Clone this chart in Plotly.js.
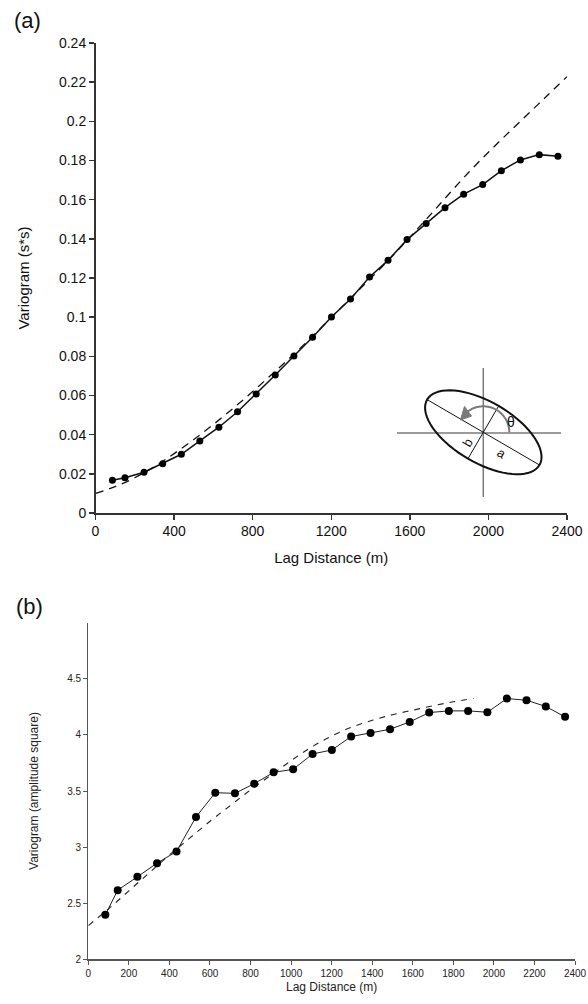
<!DOCTYPE html>
<html>
<head>
<meta charset="utf-8">
<script src="https://cdn.plot.ly/plotly-3.0.1.min.js"></script>
<style>html,body{margin:0;padding:0;background:#fff;}#chart{width:588px;height:1004px;}</style>
</head>
<body>
<div id="chart"></div>
<script>
// ---- Panel (a) data ----
const lagA = [86,150,247,342,437,531,628,723,818,915,1010,1105,1201,1298,1395,1489,1586,1683,1779,1874,1971,2066,2163,2259,2354];
const gamA = [0.0167,0.0180,0.0208,0.0252,0.0300,0.0368,0.0438,0.0517,0.0608,0.0705,0.0802,0.0897,0.1001,0.1093,0.1205,0.1290,0.1396,0.1478,0.1559,0.1628,0.1677,0.1748,0.1803,0.1830,0.1822];
const modelLagA = [0,100,200,300,400,500,600,700,800,900,1000,1100,1200,1300,1400,1500,1600,1700,1800,1900,2000,2100,2200,2300,2400];
const modelGamA = [0.0100,0.0135,0.0180,0.0237,0.0303,0.0375,0.0452,0.0534,0.0620,0.0710,0.0802,0.0898,0.0998,0.1098,0.1198,0.1300,0.1408,0.1518,0.1630,0.1740,0.1842,0.1940,0.2036,0.2132,0.2228];
const yTickValsA = [0,0.02,0.04,0.06,0.08,0.1,0.12,0.14,0.16,0.18,0.2,0.22,0.24];
const yTickTextA = ["0","0.02","0.04","0.06","0.08","0.1","0.12","0.14","0.16","0.18","0.2","0.22","0.24"];
const xTickValsA = [0,400,800,1200,1600,2000,2400];

// ---- Panel (b) data ----
const lagB = [84,145,242,339,435,531,626,723,818,914,1010,1106,1201,1296,1392,1488,1585,1681,1778,1873,1968,2064,2161,2256,2351];
const gamB = [2.396,2.616,2.735,2.857,2.961,3.268,3.485,3.479,3.565,3.666,3.693,3.830,3.866,3.985,4.018,4.050,4.116,4.199,4.214,4.214,4.202,4.324,4.309,4.253,4.161];
const modelLagB = [0,100,200,300,400,500,600,700,800,900,1000,1100,1200,1300,1400,1500,1600,1700,1800,1900];
const modelGamB = [2.30,2.45,2.61,2.77,2.93,3.08,3.23,3.37,3.51,3.64,3.77,3.89,3.99,4.07,4.13,4.18,4.22,4.26,4.295,4.325];
const yTickValsB = [2,2.5,3,3.5,4,4.5];
const yTickTextB = ["2","2.5","3","3.5","4","4.5"];
const xTickValsB = [0,200,400,600,800,1000,1200,1400,1600,1800,2000,2200,2400];

const W = 588, H = 1004;
const FONT = 'Liberation Sans, Arial, sans-serif';

const traces = [
  {x: modelLagA, y: modelGamA, xaxis:'x', yaxis:'y', mode:'lines', line:{color:'#111', width:1.3, dash:'8px,6px', shape:'spline'}, hoverinfo:'skip'},
  {x: lagA, y: gamA, xaxis:'x', yaxis:'y', mode:'lines+markers', line:{color:'#111', width:1.5}, marker:{color:'#000', size:7}},
  {x: modelLagB, y: modelGamB, xaxis:'x2', yaxis:'y2', mode:'lines', line:{color:'#222', width:1.1, dash:'6px,6px', shape:'spline'}, hoverinfo:'skip'},
  {x: lagB, y: gamB, xaxis:'x2', yaxis:'y2', mode:'lines+markers', line:{color:'#222', width:1}, marker:{color:'#000', size:8}}
];

// inset ellipse diagram (pixel geometry -> paper coords)
function P(px, py){ return [px / W, 1 - py / H]; }
function pt(px, py){ const p = P(px, py); return p[0].toFixed(5) + ',' + p[1].toFixed(5); }
const cx = 483.3, cy = 432.3, ra = 65, rb = 30.5, phi = 30.2 * Math.PI / 180;
const ux = Math.cos(phi), uy = Math.sin(phi), vx = -Math.sin(phi), vy = Math.cos(phi);
let ell = '';
for (let i = 0; i <= 72; i++) {
  const t = i / 72 * 2 * Math.PI;
  const px = cx + ra * Math.cos(t) * ux + rb * Math.sin(t) * vx;
  const py = cy + ra * Math.cos(t) * uy + rb * Math.sin(t) * vy;
  ell += (i === 0 ? 'M' : 'L') + pt(px, py);
}
ell += 'Z';
const rArc = 26;
let arc = '';
const aEnd = 128;
for (let d = 0; d <= aEnd; d += 4) {
  const r = d * Math.PI / 180;
  arc += (d === 0 ? 'M' : 'L') + pt(cx + rArc * Math.cos(r), cy - rArc * Math.sin(r));
}
// arrowhead
const tipA = 152 * Math.PI / 180, baseA = 126 * Math.PI / 180;
const tip = [cx + rArc * Math.cos(tipA), cy - rArc * Math.sin(tipA)];
const bIn = [cx + (rArc - 6) * Math.cos(baseA), cy - (rArc - 6) * Math.sin(baseA)];
const bOut = [cx + (rArc + 6) * Math.cos(baseA), cy - (rArc + 6) * Math.sin(baseA)];
const head = 'M' + pt(tip[0], tip[1]) + 'L' + pt(bIn[0], bIn[1]) + 'L' + pt(bOut[0], bOut[1]) + 'Z';

function line(x0, y0, x1, y1, color, width){
  const a = P(x0, y0), b = P(x1, y1);
  return {type:'line', xref:'paper', yref:'paper', x0:a[0], y0:a[1], x1:b[0], y1:b[1], line:{color:color, width:width}};
}
const shapes = [
  line(397, 433, 561, 433, '#7a7a7a', 1.5),
  line(483.3, 368, 483.3, 497, '#7a7a7a', 1.5),
  line(cx - ra*ux, cy - ra*uy, cx + ra*ux, cy + ra*uy, '#111', 1),
  line(cx - rb*vx, cy - rb*vy, cx + rb*vx, cy + rb*vy, '#111', 1),
  {type:'path', xref:'paper', yref:'paper', path: ell, line:{color:'#111', width:2}},
  {type:'path', xref:'paper', yref:'paper', path: arc, line:{color:'#7a7a7a', width:2}},
  {type:'path', xref:'paper', yref:'paper', path: head, fillcolor:'#7a7a7a', line:{color:'#7a7a7a', width:1}}
];

function ann(text, px, py, size, angle, color){
  const p = P(px, py);
  return {text:text, xref:'paper', yref:'paper', x:p[0], y:p[1], xanchor:'center', yanchor:'middle', showarrow:false, textangle: angle || 0, font:{family:FONT, size:size, color: color || '#111'}};
}
const annotations = [
  ann('(a)', 27, 21, 22),
  ann('(b)', 29, 606, 22),
  ann('θ', 511, 422, 14),
  ann('a', 502, 453, 13, 30),
  ann('b', 467, 443, 13, -60)
];

const layout = {
  width: W, height: H,
  margin: {l:0, r:0, t:0, b:0},
  paper_bgcolor: '#fff', plot_bgcolor: '#fff',
  showlegend: false,
  font: {family: FONT, color:'#111'},
  xaxis: {
    domain: [95.5/W, 567/W], anchor:'y', range:[0, 2400],
    tickvals: xTickValsA, ticks:'outside', ticklen:5, tickwidth:1.5, tickcolor:'#333',
    showline:true, linecolor:'#333', linewidth:1.5, showgrid:false, zeroline:false,
    tickfont:{size:14, color:'#111'},
    title:{text:'Lag Distance (m)', font:{size:15, color:'#111'}, standoff:14}
  },
  yaxis: {
    domain: [1 - 513/H, 1 - 43/H], anchor:'x', range:[0, 0.24],
    tickvals: yTickValsA, ticktext: yTickTextA, ticks:'outside', ticklen:5, tickwidth:1.5, tickcolor:'#333',
    showline:true, linecolor:'#333', linewidth:1.5, showgrid:false, zeroline:false,
    tickfont:{size:14, color:'#111'},
    title:{text:'Variogram (s*s)', font:{size:15, color:'#111'}, standoff:25}
  },
  xaxis2: {
    domain: [88.3/W, 575/W], anchor:'y2', range:[0, 2400],
    tickvals: xTickValsB, ticks:'outside', ticklen:4, tickwidth:1, tickcolor:'#555',
    showline:true, linecolor:'#555', linewidth:1.2, showgrid:false, zeroline:false,
    tickfont:{size:10, color:'#222'},
    title:{text:'Lag Distance (m)', font:{size:12, color:'#222'}, standoff:5}
  },
  yaxis2: {
    domain: [1 - 959.3/H, 1 - 622.7/H], anchor:'x2', range:[2, 5],
    tickvals: yTickValsB, ticktext: yTickTextB, ticks:'outside', ticklen:4, tickwidth:1, tickcolor:'#555',
    showline:true, linecolor:'#555', linewidth:1.2, showgrid:false, zeroline:false,
    tickfont:{size:10, color:'#222'},
    title:{text:'Variogram (amplitude square)', font:{size:12, color:'#222'}, standoff:26}
  },
  shapes: shapes,
  annotations: annotations
};

Plotly.newPlot('chart', traces, layout, {staticPlot:true, displayModeBar:false});
</script>
</body>
</html>
